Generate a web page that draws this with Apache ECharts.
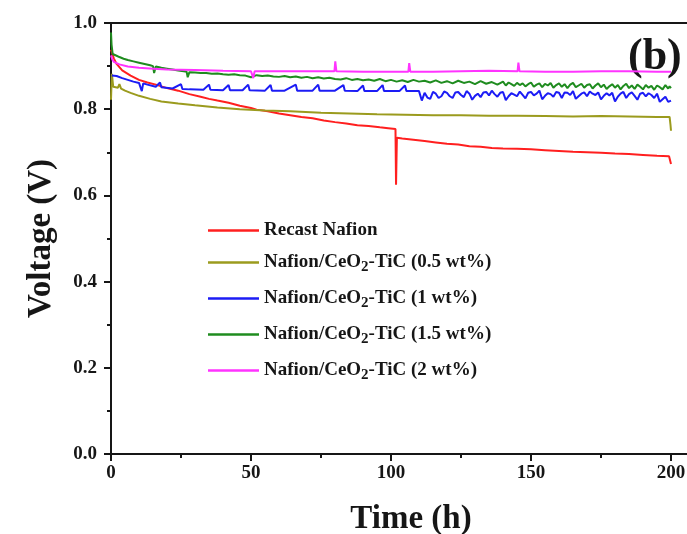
<!DOCTYPE html>
<html>
<head>
<meta charset="utf-8">
<script src="https://cdn.jsdelivr.net/npm/echarts@6/dist/echarts.min.js"></script>
<style>
  html, body { margin: 0; padding: 0; background: #fff; }
  #chart { width: 687px; height: 534px; }
</style>
</head>
<body>
<div id="chart"></div>
<script>
// Durability test: cell voltage versus time for each membrane
const seriesNames = [
  'Recast Nafion',
  'Nafion/CeO2-TiC (0.5 wt%)',
  'Nafion/CeO2-TiC (1 wt%)',
  'Nafion/CeO2-TiC (1.5 wt%)',
  'Nafion/CeO2-TiC (2 wt%)'
];
const seriesColors = ['#ff1f1f', '#9b9b1e', '#1c1cf5', '#1f8c1f', '#ff33ff'];

const xTicks = [0, 50, 100, 150, 200];
const yTicks = [0.0, 0.2, 0.4, 0.6, 0.8, 1.0];

// Recast Nafion
const recastT = [0, 1, 2, 4, 7, 10, 13, 16, 20, 24, 28, 32, 35, 38, 42, 46, 50, 52, 56, 60, 64, 68, 72, 76, 80, 84, 88, 92, 96, 99, 101.6, 101.8, 102.1,
  104, 108, 112, 116, 120, 124, 128, 132, 136, 140, 145, 150, 155, 160, 165, 170, 175, 180, 185, 190, 195, 199.3, 199.6, 200];
const recastV = [0.938, 0.918, 0.905, 0.890, 0.878, 0.868, 0.862, 0.857, 0.849, 0.843, 0.835, 0.829, 0.824, 0.820, 0.815, 0.808, 0.803, 0.799, 0.795, 0.790, 0.786, 0.782, 0.779, 0.774, 0.770, 0.767, 0.763, 0.761, 0.758, 0.756, 0.754, 0.625, 0.734,
  0.732, 0.729, 0.726, 0.723, 0.720, 0.718, 0.714, 0.713, 0.710, 0.709, 0.708, 0.707, 0.705, 0.703, 0.701, 0.700, 0.699, 0.697, 0.696, 0.694, 0.692, 0.691, 0.690, 0.673];

// Nafion/CeO2-TiC (0.5 wt%)
const ceo05T = [0, 0.3, 0.8, 1.5, 2.5, 3, 3.6, 5, 7, 10, 14, 18, 24, 30, 38, 46, 55, 64, 75, 85, 95, 105, 115, 125, 135, 145, 155, 165, 175, 185, 195, 199.5, 199.8, 200];
const ceo05V = [0.822, 0.882, 0.852, 0.848, 0.850, 0.858, 0.848, 0.843, 0.838, 0.831, 0.824, 0.818, 0.813, 0.809, 0.804, 0.800, 0.797, 0.795, 0.792, 0.790, 0.788, 0.787, 0.786, 0.786, 0.785, 0.785, 0.784, 0.783, 0.784, 0.783, 0.782, 0.782, 0.765, 0.750];

// Nafion/CeO2-TiC (1 wt%): steady part with upward spikes, then a noisy stretch sampled hourly
const ceo1T = [0.3, 2, 4, 6, 8, 10, 11, 11.5, 13, 16, 17.5, 18, 22, 25, 25.5, 28, 33, 35, 35.5, 40, 42, 42.5, 47, 49, 49.5, 55, 57, 57.5, 62, 66, 66.5, 72, 74, 74.5, 80, 83, 83.5,
  88, 90, 90.5, 95, 97, 97.5, 103, 105, 105.5, 110,
  111, 112, 113, 114, 115, 116, 117, 118, 119, 120,
  121, 122, 123, 124, 125, 126, 127, 128, 129, 130,
  131, 132, 133, 134, 135, 136, 137, 138, 139, 140,
  141, 142, 143, 144, 145, 146, 147, 148, 149, 150,
  151, 152, 153, 154, 155, 156, 157, 158, 159, 160,
  161, 162, 163, 164, 165, 166, 167, 168, 169, 170,
  171, 172, 173, 174, 175, 176, 177, 178, 179, 180,
  181, 182, 183, 184, 185, 186, 187, 188, 189, 190,
  191, 192, 193, 194, 195, 196, 197, 198, 199, 200];
const ceo1V = [0.878, 0.877, 0.872, 0.868, 0.864, 0.861, 0.842, 0.860, 0.857, 0.852, 0.862, 0.851, 0.848, 0.858, 0.847, 0.846, 0.845, 0.857, 0.845, 0.844, 0.856, 0.844, 0.844, 0.857, 0.844, 0.843, 0.856, 0.843, 0.843, 0.857, 0.843, 0.843, 0.857, 0.843, 0.843, 0.856, 0.843,
  0.842, 0.855, 0.842, 0.842, 0.856, 0.842, 0.842, 0.855, 0.842, 0.842,
  0.820, 0.838, 0.827, 0.824, 0.840, 0.836, 0.826, 0.830, 0.841, 0.838,
  0.830, 0.826, 0.839, 0.840, 0.833, 0.828, 0.842, 0.836, 0.822, 0.831,
  0.836, 0.828, 0.839, 0.840, 0.832, 0.843, 0.835, 0.829, 0.838, 0.840,
  0.821, 0.830, 0.837, 0.834, 0.830, 0.841, 0.833, 0.825, 0.838, 0.840,
  0.832, 0.836, 0.843, 0.823, 0.831, 0.837, 0.835, 0.829, 0.840, 0.838,
  0.826, 0.839, 0.838, 0.833, 0.842, 0.824, 0.830, 0.836, 0.839, 0.830,
  0.841, 0.836, 0.833, 0.839, 0.823, 0.831, 0.837, 0.832, 0.838, 0.818,
  0.829, 0.836, 0.840, 0.826, 0.835, 0.839, 0.831, 0.822, 0.836, 0.838,
  0.830, 0.837, 0.833, 0.826, 0.836, 0.817, 0.823, 0.829, 0.817, 0.820];

// Nafion/CeO2-TiC (1.5 wt%)
const ceo15T = [0, 0.2, 0.6, 1.2, 2, 3, 4.5, 6, 8, 10, 12, 14, 15, 15.4, 16, 18, 20, 22, 24, 26, 27, 27.4, 28, 30, 32, 34, 36, 38, 40, 42, 44, 46, 48, 50, 52, 54, 56, 58, 60,
  62, 64, 66, 68, 70, 72, 74, 76, 78, 80, 82, 84, 86, 88, 90, 92, 94, 96, 98, 100, 102, 104, 106, 108, 110, 112, 114, 116, 118, 120, 122, 124, 126, 128, 130,
  132, 134, 136, 138, 140, 141, 142, 143, 144, 145, 146, 147, 148, 149, 150, 151, 152, 153, 154, 155, 156, 157, 158, 159, 160, 161, 162, 163, 164, 165, 166, 167, 168, 169, 170,
  171, 172, 173, 174, 175, 176, 177, 178, 179, 180, 181, 182, 183, 184, 185, 186, 187, 188, 189, 190, 191, 192, 193, 194, 195, 196, 197, 198, 199, 199.5, 200];
const ceo15V = [0.978, 0.950, 0.928, 0.926, 0.924, 0.921, 0.917, 0.914, 0.911, 0.908, 0.905, 0.902, 0.900, 0.884, 0.899, 0.896, 0.894, 0.892, 0.890, 0.888, 0.887, 0.874, 0.886, 0.885, 0.884, 0.884, 0.882, 0.883, 0.881, 0.880, 0.881, 0.879, 0.878, 0.874, 0.879, 0.877, 0.878, 0.876, 0.875,
  0.877, 0.874, 0.876, 0.873, 0.875, 0.872, 0.874, 0.871, 0.873, 0.870, 0.869, 0.872, 0.868, 0.870, 0.867, 0.869, 0.866, 0.870, 0.865, 0.868, 0.864, 0.867, 0.863, 0.868, 0.864, 0.866, 0.862, 0.867, 0.861, 0.865, 0.860, 0.866, 0.861, 0.864, 0.858,
  0.865, 0.859, 0.863, 0.857, 0.864, 0.855, 0.862, 0.858, 0.854, 0.861, 0.856, 0.860, 0.853, 0.858, 0.862, 0.852, 0.857, 0.860, 0.851, 0.859, 0.855, 0.861, 0.850, 0.856, 0.860, 0.852, 0.858, 0.849, 0.857, 0.861, 0.851, 0.855, 0.859, 0.850, 0.856,
  0.858, 0.848, 0.855, 0.860, 0.851, 0.857, 0.847, 0.853, 0.858, 0.850, 0.856, 0.846, 0.854, 0.859, 0.849, 0.855, 0.847, 0.857, 0.852, 0.846, 0.856, 0.850, 0.854, 0.845, 0.855, 0.851, 0.846, 0.856, 0.848, 0.853, 0.849];

// Nafion/CeO2-TiC (2 wt%)
const ceo2T = [0, 0.5, 1, 3, 6, 10, 15, 20, 30, 40, 50, 50.8, 51.3, 60, 70, 79.8, 80.1, 80.5, 90, 100, 106.2, 106.5, 106.9, 115, 125, 135, 145.2, 145.5, 145.9, 155, 165, 175, 185, 195, 200];
const ceo2V = [0.925, 0.915, 0.910, 0.904, 0.899, 0.896, 0.894, 0.892, 0.891, 0.889, 0.888, 0.872, 0.888, 0.888, 0.888, 0.888, 0.911, 0.888, 0.887, 0.887, 0.887, 0.907, 0.887, 0.887, 0.888, 0.889, 0.888, 0.908, 0.888, 0.887, 0.887, 0.888, 0.888, 0.887, 0.887];

const seriesTimes = [recastT, ceo05T, ceo1T, ceo15T, ceo2T];
const seriesValues = [recastV, ceo05V, ceo1V, ceo15V, ceo2V];

const FONT = '"Liberation Serif", "Times New Roman", serif';
const INK = '#161616';

const chart = echarts.init(document.getElementById('chart'), null, { renderer: 'canvas' });

const lineSeries = seriesNames.map((name, i) => ({
  name: name,
  type: 'line',
  showSymbol: false,
  symbol: 'none',
  data: seriesTimes[i].map((t, k) => [t, seriesValues[i][k]]),
  lineStyle: { color: seriesColors[i], width: 2 },
  itemStyle: { color: seriesColors[i] },
  emphasis: { disabled: true },
  z: 2 + i
}));

const legendText = {
  fontFamily: FONT,
  fontWeight: 'bold',
  fontSize: 19,
  color: INK,
  rich: {
    s: { fontFamily: FONT, fontWeight: 'bold', fontSize: 15, color: INK, padding: [10, 0, 0, 0] }
  }
};
const legendFormatter = (name) => name.replace('CeO2', 'CeO{s|2}');

const option = {
  animation: false,
  backgroundColor: '#ffffff',
  // the plot frame runs past the right edge of the canvas
  grid: { left: 111, top: 23, width: 588, height: 431, containLabel: false, outerBoundsMode: 'none' },
  legend: [
    {
      data: [seriesNames[0]],
      left: 203, top: 216,
      orient: 'vertical',
      icon: 'rect', itemWidth: 51, itemHeight: 2.5,
      textStyle: legendText, formatter: legendFormatter,
      selectedMode: false
    },
    {
      data: seriesNames.slice(1),
      left: 203, top: 248,
      orient: 'vertical',
      itemGap: 14,
      icon: 'rect', itemWidth: 51, itemHeight: 2.5,
      textStyle: legendText, formatter: legendFormatter,
      selectedMode: false
    }
  ],
  xAxis: [
    {
      type: 'value', min: 0, max: 210, interval: 50,
      name: 'Time (h)', nameLocation: 'middle', nameGap: 49,
      nameTextStyle: { fontFamily: FONT, fontWeight: 'bold', fontSize: 33, color: INK, padding: [0, 0, 0, 12] },
      axisLine: { show: true, onZero: false, lineStyle: { color: INK, width: 2 } },
      axisTick: { show: true, inside: false, length: 7, lineStyle: { color: INK, width: 2 } },
      minorTick: { show: true, splitNumber: 2, length: 4, lineStyle: { color: INK, width: 2 } },
      splitLine: { show: false },
      axisLabel: {
        margin: 10, fontFamily: FONT, fontWeight: 'bold', fontSize: 19, color: INK,
        formatter: (v) => (xTicks.indexOf(v) >= 0 ? String(v) : '')
      }
    },
    {
      type: 'value', min: 0, max: 210, position: 'top',
      axisLine: { show: true, onZero: false, lineStyle: { color: INK, width: 2 } },
      axisTick: { show: false }, axisLabel: { show: false }, splitLine: { show: false }
    }
  ],
  yAxis: [
    {
      type: 'value', min: 0, max: 1, interval: 0.2,
      name: 'Voltage (V)', nameLocation: 'middle', nameGap: 53, nameRotate: 90,
      nameTextStyle: { fontFamily: FONT, fontWeight: 'bold', fontSize: 33, color: INK },
      axisLine: { show: true, onZero: false, lineStyle: { color: INK, width: 2 } },
      axisTick: { show: true, inside: false, length: 7, lineStyle: { color: INK, width: 2 } },
      minorTick: { show: true, splitNumber: 2, length: 4, lineStyle: { color: INK, width: 2 } },
      splitLine: { show: false },
      axisLabel: {
        margin: 14, fontFamily: FONT, fontWeight: 'bold', fontSize: 19, color: INK,
        formatter: (v) => {
          const hit = yTicks.find((t) => Math.abs(t - v) < 1e-6);
          return hit === undefined ? '' : hit.toFixed(1);
        }
      }
    }
  ],
  graphic: [
    {
      type: 'text', left: 628, top: 36,
      style: { text: '(b)', fontFamily: FONT, fontWeight: 'bold', fontSize: 44, fill: INK }
    }
  ],
  series: lineSeries
};

chart.setOption(option);
</script>
</body>
</html>
